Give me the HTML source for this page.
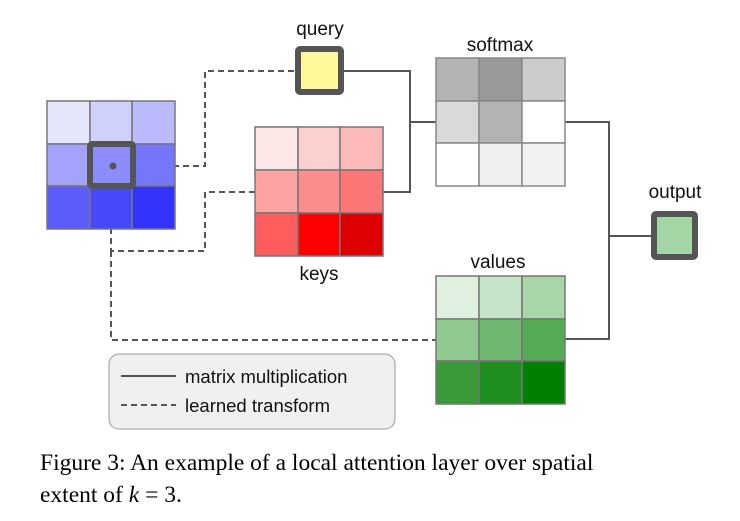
<!DOCTYPE html>
<html><head><meta charset="utf-8"><style>
html,body{margin:0;padding:0;background:#fff;}
body{width:740px;height:521px;position:relative;overflow:hidden;}
svg{position:absolute;left:0;top:0;}
.cap{position:absolute;left:40px;font-family:"Liberation Serif",serif;font-size:23.5px;color:#000;white-space:nowrap;}
</style></head><body>
<svg width="740" height="521" viewBox="0 0 740 521" font-family="Liberation Sans, sans-serif">
<g fill="none" stroke="#555" stroke-width="2">
<!-- dashed -->
<g stroke-dasharray="6,4">
<path d="M113 166 H205 V71 H295"/>
<path d="M255 192 H205 V251 H111 V229"/>
<path d="M111 251 V340 H437"/>
</g>
<!-- solid -->
<path d="M344 71 H410 V192 H383"/>
<path d="M410 122 H437"/>
<path d="M565 122 H609 V339 H565"/>
<path d="M609 236 H651"/>
</g>
<!-- blue grid -->
<g stroke="#777" stroke-width="1.5">
<rect x="47" y="101" width="43" height="43" fill="#e6e6fb"/><rect x="90" y="101" width="42" height="43" fill="#d0d0fc"/><rect x="132" y="101" width="43" height="43" fill="#babafc"/>
<rect x="47" y="144" width="43" height="42" fill="#a3a3fb"/><rect x="90" y="144" width="42" height="42" fill="#8c8cfb"/><rect x="132" y="144" width="43" height="42" fill="#7676fb"/>
<rect x="47" y="186" width="43" height="43" fill="#5d5dfb"/><rect x="90" y="186" width="42" height="43" fill="#4848fb"/><rect x="132" y="186" width="43" height="43" fill="#3333fb"/>
</g>
<rect x="90" y="144" width="43" height="42" fill="none" stroke="#555" stroke-width="6" rx="2"/>
<circle cx="113" cy="166" r="3.5" fill="#555"/>
<!-- keys -->
<g stroke="#777" stroke-width="1.5">
<rect x="255" y="127" width="43" height="43" fill="#fde7e7"/><rect x="298" y="127" width="42" height="43" fill="#fdd0d0"/><rect x="340" y="127" width="43" height="43" fill="#fdbaba"/>
<rect x="255" y="170" width="43" height="43" fill="#fda3a3"/><rect x="298" y="170" width="42" height="43" fill="#fd8c8c"/><rect x="340" y="170" width="43" height="43" fill="#fd7676"/>
<rect x="255" y="213" width="43" height="43" fill="#fd5d5d"/><rect x="298" y="213" width="42" height="43" fill="#fe0000"/><rect x="340" y="213" width="43" height="43" fill="#dd0000"/>
</g>
<!-- softmax -->
<g stroke="#888" stroke-width="1.5">
<rect x="436" y="58" width="43" height="43" fill="#b3b3b3"/><rect x="479" y="58" width="43" height="43" fill="#999"/><rect x="522" y="58" width="43" height="43" fill="#ccc"/>
<rect x="436" y="101" width="43" height="42" fill="#d9d9d9"/><rect x="479" y="101" width="43" height="42" fill="#b3b3b3"/><rect x="522" y="101" width="43" height="42" fill="#fff"/>
<rect x="436" y="143" width="43" height="43" fill="#fff"/><rect x="479" y="143" width="43" height="43" fill="#f0f0f0"/><rect x="522" y="143" width="43" height="43" fill="#f2f2f2"/>
</g>
<!-- values -->
<g stroke="#777" stroke-width="1.5">
<rect x="436" y="276" width="43" height="43" fill="#e0f0e0"/><rect x="479" y="276" width="43" height="43" fill="#c8e4c8"/><rect x="522" y="276" width="43" height="43" fill="#a8d6a8"/>
<rect x="436" y="319" width="43" height="42" fill="#90c990"/><rect x="479" y="319" width="43" height="42" fill="#70b870"/><rect x="522" y="319" width="43" height="42" fill="#55aa55"/>
<rect x="436" y="361" width="43" height="43" fill="#3a9a3a"/><rect x="479" y="361" width="43" height="43" fill="#1e8e1e"/><rect x="522" y="361" width="43" height="43" fill="#008000"/>
</g>
<!-- query / output -->
<rect x="298" y="49" width="43" height="43" fill="#fff99b" stroke="#555" stroke-width="6" rx="2"/>
<rect x="654" y="214" width="41" height="43" fill="#a5d6a5" stroke="#555" stroke-width="6" rx="2"/>
<!-- labels -->
<g font-size="19" fill="#111" text-anchor="middle">
<text x="320" y="35">query</text>
<text x="500" y="51">softmax</text>
<text x="675" y="198">output</text>
<text x="498" y="268">values</text>
<text x="319" y="280">keys</text>
</g>
<!-- legend -->
<rect x="109" y="354" width="286" height="75" rx="10" fill="#f0f0f0" stroke="#999" stroke-width="1"/>
<line x1="121" y1="376" x2="176" y2="376" stroke="#555" stroke-width="2"/>
<line x1="121" y1="405" x2="176" y2="405" stroke="#555" stroke-width="2" stroke-dasharray="6,4"/>
<g font-size="18.5" fill="#111">
<text x="185" y="383">matrix multiplication</text>
<text x="185" y="412">learned transform</text>
</g>
</svg>
<div class="cap" style="top:450px;">Figure 3: An example of a local attention layer over spatial</div>
<div class="cap" style="top:482px;">extent of <i>k</i> = 3.</div>
</body></html>
